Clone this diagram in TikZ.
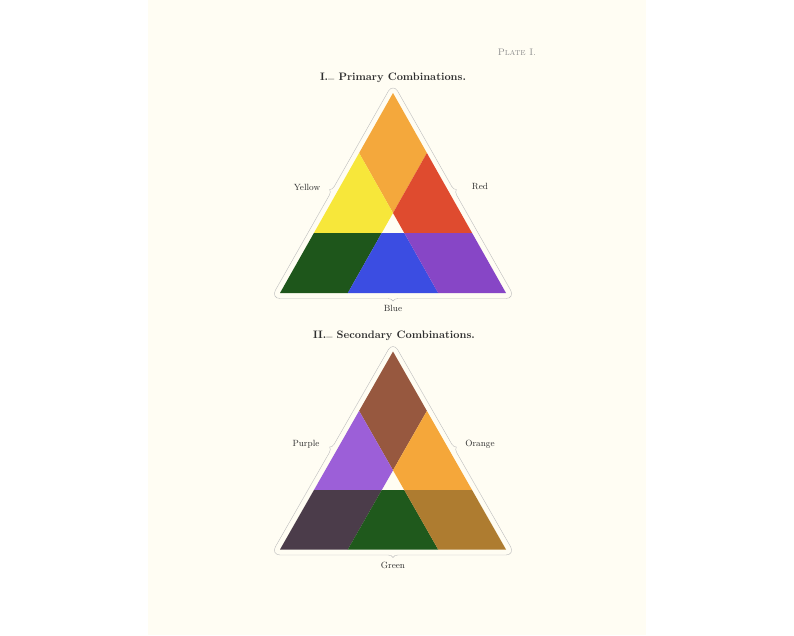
\documentclass[tikz,border=0pt]{standalone}
\usepackage{fontspec}
\usetikzlibrary{decorations.pathreplacing}
\definecolor{paper}{HTML}{FFFDF3}
\definecolor{inkc}{HTML}{2E2E2E}
\definecolor{outl}{HTML}{BDBDBD}
% primary
\definecolor{cOrangeA}{HTML}{F4A83C}
\definecolor{cYellow}{HTML}{F7E73A}
\definecolor{cRed}{HTML}{DF4B2F}
\definecolor{cGreenA}{HTML}{1E561B}
\definecolor{cBlue}{HTML}{3B4DE2}
\definecolor{cPurpleA}{HTML}{8746C6}
% secondary
\definecolor{cBrown}{HTML}{97583F}
\definecolor{cPurpleB}{HTML}{9C5FD8}
\definecolor{cOrangeB}{HTML}{F5A73A}
\definecolor{cDark}{HTML}{4B3C4A}
\definecolor{cGreenB}{HTML}{1F591C}
\definecolor{cOchre}{HTML}{AE7C30}
\newcommand\tridiss[6]{%
  \coordinate (A) at (0,0);
  \coordinate (B) at (-113,200);
  \coordinate (C) at (113,200);
  \coordinate (Lm) at (-33.9,60);
  \coordinate (Rm) at (33.9,60);
  \coordinate (O) at (0,120);
  \coordinate (L1) at (-79.1,140);
  \coordinate (R1) at (79.1,140);
  \coordinate (Wl) at (-11.3,140);
  \coordinate (Wr) at (11.3,140);
  \coordinate (Gb) at (-45.2,200);
  \coordinate (Pb) at (45.2,200);
  \fill[#1] (A) -- (Rm) -- (O) -- (Lm) -- cycle;
  \fill[#2] (Lm) -- (O) -- (Wl) -- (L1) -- cycle;
  \fill[#3] (Rm) -- (R1) -- (Wr) -- (O) -- cycle;
  \fill[#4] (L1) -- (Wl) -- (Gb) -- (B) -- cycle;
  \fill[#5] (Wl) -- (Wr) -- (Pb) -- (Gb) -- cycle;
  \fill[#6] (Wr) -- (R1) -- (C) -- (Pb) -- cycle;
  \coordinate (oA) at (0,-5);
  \coordinate (oB) at (-118,203);
  \coordinate (oC) at (118,203);
  \draw[bracestyle] (oB) -- (oA);
  \draw[bracestyle] (oA) -- (oC);
  \draw[bracestyle] (oC) -- (oB);
}
\tikzset{
  bracestyle/.style={draw=outl, line width=0.4pt, decorate,
    decoration={brace, amplitude=5pt, aspect=0.5}},
  titletext/.style={text=inkc, font=\fontsize{10.8}{12}\selectfont\bfseries\addfontfeature{LetterSpace=8}, inner sep=0pt},
  labeltext/.style={text=inkc, font=\fontsize{9}{11}\selectfont\addfontfeature{LetterSpace=10}, inner sep=0pt},
  platetext/.style={text=black!45, font=\fontsize{9.5}{11}\selectfont\scshape\addfontfeature{LetterSpace=4}, inner sep=0pt},
}
\begin{document}
\begin{tikzpicture}[x=1pt, y=-1pt]
  \useasboundingbox (0,0) rectangle (794,635);
  \fill[white] (0,0) rectangle (794,635);
  \fill[paper] (148,0) rectangle (645.5,635);
  \node[platetext] (plate) at (517,52) {Plate I.};
  \node[titletext] (t1) at (393,78) {I.\raisebox{-1.5pt}{–} Primary Combinations.};
  \begin{scope}[shift={(393,93)}]
    \tridiss{cOrangeA}{cYellow}{cRed}{cGreenA}{cBlue}{cPurpleA}
  \end{scope}
  \node[labeltext] (yellow) at (307,187) {Yellow};
  \node[labeltext] (red) at (480,186) {Red};
  \node[labeltext] (blue) at (393,308) {Blue};
  \node[titletext] (t2) at (394,336) {II.\raisebox{-1.5pt}{–} Secondary Combinations.};
  \begin{scope}[shift={(393,351.5)}, yscale=0.99]
    \tridiss{cBrown}{cPurpleB}{cOrangeB}{cDark}{cGreenB}{cOchre}
  \end{scope}
  \node[labeltext] (purple) at (306,444) {Purple};
  \node[labeltext] (orange) at (480,444) {Orange};
  \node[labeltext] (green) at (393,565) {Green};
\end{tikzpicture}
\end{document}
